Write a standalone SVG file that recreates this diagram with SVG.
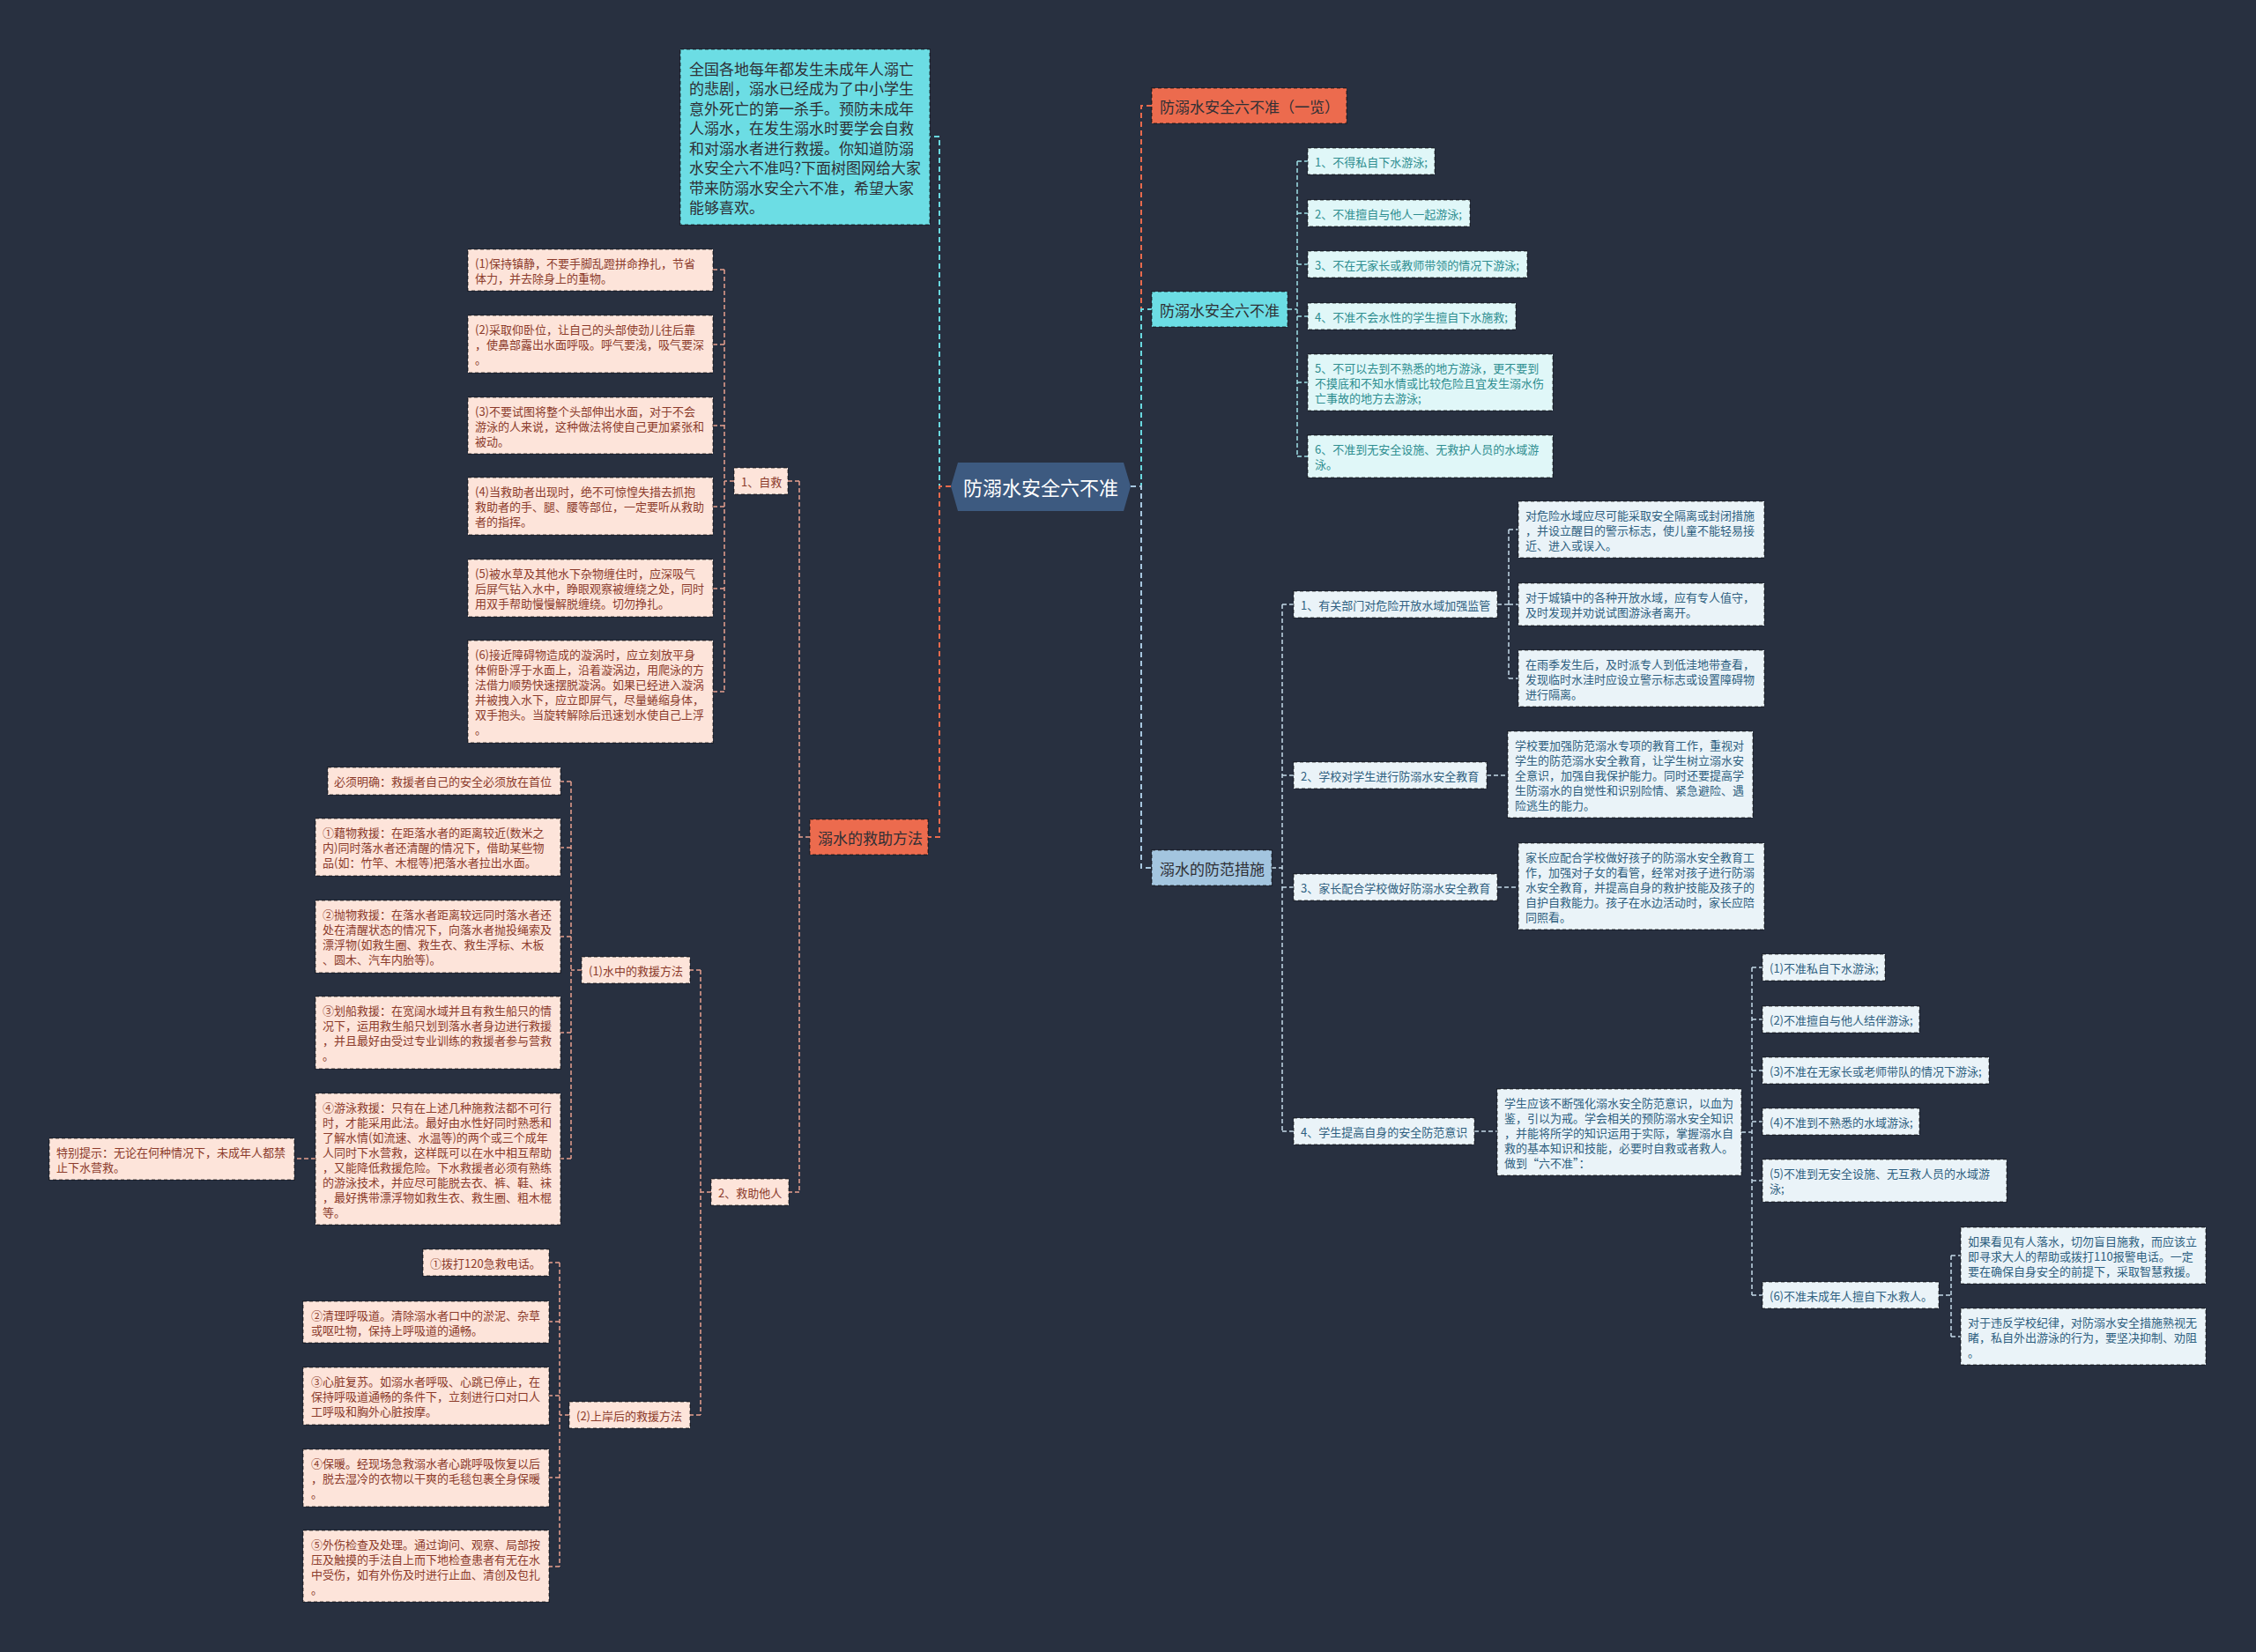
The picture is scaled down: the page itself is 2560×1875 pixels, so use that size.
<svg xmlns="http://www.w3.org/2000/svg" width="2560" height="1875" viewBox="0 0 2560 1875">
<style>
text{font-family:"Noto Sans CJK SC","Noto Sans",sans-serif;dominant-baseline:central}
.t13{font-size:13px}
.t17{font-size:17px;fill:#2f2f35}
.bx{stroke:#000;stroke-opacity:.45;stroke-width:1.5;stroke-dasharray:4 3}
.sal rect{fill:#fde4da}.sal text{fill:#8c3b2b;font-size:13px}
.cya rect{fill:#e0f7f8}.cya text{fill:#2e8e90;font-size:13px}
.blu rect{fill:#eaf3f8}.blu text{fill:#2e5f80;font-size:13px}
.c{fill:none;stroke-width:2;stroke-dasharray:6 4}
.cs{fill:none;stroke-width:1.5;stroke-dasharray:5 3}
</style>
<rect width="2560" height="1875" fill="#283040"/>

<g id="connectors">
  <path class="c" stroke="#6ad9e0" d="M1079,552H1066V155H1055"/>
  <path class="c" stroke="#e86a4d" d="M1079,552H1066V950H1053"/>
  <path class="c" stroke="#e86a4d" d="M1283,552H1295V120H1307"/>
  <path class="c" stroke="#6ad9e0" d="M1283,552H1295V351H1307"/>
  <path class="c" stroke="#a8c8e0" d="M1283,552H1295V985H1307"/>
  <!-- 六不准 children -->
  <path class="cs" stroke="#9fe0e6" d="M1461,351H1472M1472,183V518M1472,183H1484M1472,242H1484M1472,300H1484M1472,359H1484M1472,434H1484M1472,518H1484"/>
  <!-- 防范措施 children -->
  <path class="cs" stroke="#c4d9e8" d="M1443,985H1455M1455,686V1284M1455,686H1468M1455,880H1468M1455,1007H1468M1455,1284H1468"/>
  <path class="cs" stroke="#c4d9e8" d="M1699,686H1712M1712,601V770M1712,601H1723M1712,686H1723M1712,770H1723"/>
  <path class="cs" stroke="#c4d9e8" d="M1687,880H1711"/>
  <path class="cs" stroke="#c4d9e8" d="M1699,1007H1723"/>
  <path class="cs" stroke="#c4d9e8" d="M1673,1284H1699"/>
  <path class="cs" stroke="#c4d9e8" d="M1976,1285H1988M1988,1098V1470M1988,1098H2000M1988,1157H2000M1988,1215H2000M1988,1273H2000M1988,1340H2000M1988,1470H2000"/>
  <path class="cs" stroke="#c4d9e8" d="M2200,1470H2214M2214,1425V1517M2214,1425H2225M2214,1517H2225"/>
  <!-- 救助方法 children -->
  <path class="cs" stroke="#e8a08e" d="M919,950H907M907,546V1353M907,546H894M907,1353H895"/>
  <path class="cs" stroke="#e8a08e" d="M833,546H822M822,306V785M822,306H809M822,391H809M822,483H809M822,575H809M822,668H809M822,785H809"/>
  <path class="cs" stroke="#e8a08e" d="M807,1353H795M795,1101V1606M795,1101H783M795,1606H783"/>
  <path class="cs" stroke="#e8a08e" d="M660,1101H648M648,887V1315M648,887H636M648,962H636M648,1063H636M648,1172H636M648,1315H636"/>
  <path class="cs" stroke="#e8a08e" d="M358,1315H334"/>
  <path class="cs" stroke="#e8a08e" d="M646,1606H635M635,1433V1778M635,1433H623M635,1500H623M635,1584H623M635,1677H623M635,1778H623"/>
</g>

<g id="root">
  <polygon points="1079,552 1087,525 1275,525 1283,552 1275,580 1087,580" fill="#3d5a80"/>
  <text x="1181" y="552" font-size="22" fill="#ffffff" text-anchor="middle">防溺水安全六不准</text>
</g>

<g id="intro">
  <rect class="bx" x="772" y="56" width="283" height="199" fill="#6cdde4"/>
  <text class="t17" x="782" y="77">全国各地每年都发生未成年人溺亡</text>
  <text class="t17" x="782" y="99.5">的悲剧，溺水已经成为了中小学生</text>
  <text class="t17" x="782" y="122">意外死亡的第一杀手。预防未成年</text>
  <text class="t17" x="782" y="144.5">人溺水，在发生溺水时要学会自救</text>
  <text class="t17" x="782" y="167">和对溺水者进行救援。你知道防溺</text>
  <text class="t17" x="782" y="189.5">水安全六不准吗?下面树图网给大家</text>
  <text class="t17" x="782" y="212">带来防溺水安全六不准，希望大家</text>
  <text class="t17" x="782" y="234.5">能够喜欢。</text>
</g>

<g id="n-yilan">
  <rect class="bx" x="1307" y="100" width="221" height="40" fill="#ec6b4e"/>
  <text class="t17" x="1316" y="120">防溺水安全六不准（一览）</text>
</g>
<g id="n-liubuzhun">
  <rect class="bx" x="1307" y="331" width="154" height="40" fill="#6cdde4"/>
  <text class="t17" x="1316" y="351">防溺水安全六不准</text>
</g>
<g id="n-fangfan">
  <rect class="bx" x="1307" y="965" width="136" height="40" fill="#a3c5df"/>
  <text class="t17" x="1316" y="985">溺水的防范措施</text>
</g>
<g id="n-jiuzhu">
  <rect class="bx" x="919" y="930" width="134" height="40" fill="#ec6b4e"/>
  <text class="t17" x="928" y="950">溺水的救助方法</text>
</g>

<!-- 六不准 children -->
<g id="l1" class="cya"><rect class="bx" x="1484" y="168" width="144" height="30"/><text x="1492" y="183">1、不得私自下水游泳;</text></g>
<g id="l2" class="cya"><rect class="bx" x="1484" y="227" width="184" height="30"/><text x="1492" y="242">2、不准擅自与他人一起游泳;</text></g>
<g id="l3" class="cya"><rect class="bx" x="1484" y="285" width="249" height="30"/><text x="1492" y="300">3、不在无家长或教师带领的情况下游泳;</text></g>
<g id="l4" class="cya"><rect class="bx" x="1484" y="344" width="236" height="30"/><text x="1492" y="359">4、不准不会水性的学生擅自下水施救;</text></g>
<g id="l5" class="cya"><rect class="bx" x="1484" y="402" width="278" height="64"/>
  <text x="1492" y="417">5、不可以去到不熟悉的地方游泳，更不要到</text>
  <text x="1492" y="434">不摸底和不知水情或比较危险且宜发生溺水伤</text>
  <text x="1492" y="451">亡事故的地方去游泳;</text></g>
<g id="l6" class="cya"><rect class="bx" x="1484" y="494" width="278" height="48"/>
  <text x="1492" y="509">6、不准到无安全设施、无救护人员的水域游</text>
  <text x="1492" y="526">泳。</text></g>

<!-- 防范措施 children -->
<g id="f1" class="blu"><rect class="bx" x="1468" y="671" width="231" height="30"/><text x="1476" y="686">1、有关部门对危险开放水域加强监管</text></g>
<g id="f1a" class="blu"><rect class="bx" x="1723" y="569" width="279" height="64"/>
  <text x="1731" y="584">对危险水域应尽可能采取安全隔离或封闭措施</text>
  <text x="1731" y="601">，并设立醒目的警示标志，使儿童不能轻易接</text>
  <text x="1731" y="618">近、进入或误入。</text></g>
<g id="f1b" class="blu"><rect class="bx" x="1723" y="662" width="279" height="48"/>
  <text x="1731" y="677">对于城镇中的各种开放水域，应有专人值守，</text>
  <text x="1731" y="694">及时发现并劝说试图游泳者离开。</text></g>
<g id="f1c" class="blu"><rect class="bx" x="1723" y="738" width="279" height="64"/>
  <text x="1731" y="753">在雨季发生后，及时派专人到低洼地带查看，</text>
  <text x="1731" y="770">发现临时水洼时应设立警示标志或设置障碍物</text>
  <text x="1731" y="787">进行隔离。</text></g>
<g id="f2" class="blu"><rect class="bx" x="1468" y="865" width="219" height="30"/><text x="1476" y="880">2、学校对学生进行防溺水安全教育</text></g>
<g id="f2a" class="blu"><rect class="bx" x="1711" y="830" width="278" height="98"/>
  <text x="1719" y="845">学校要加强防范溺水专项的教育工作，重视对</text>
  <text x="1719" y="862">学生的防范溺水安全教育，让学生树立溺水安</text>
  <text x="1719" y="879">全意识，加强自我保护能力。同时还要提高学</text>
  <text x="1719" y="896">生防溺水的自觉性和识别险情、紧急避险、遇</text>
  <text x="1719" y="913">险逃生的能力。</text></g>
<g id="f3" class="blu"><rect class="bx" x="1468" y="992" width="231" height="30"/><text x="1476" y="1007">3、家长配合学校做好防溺水安全教育</text></g>
<g id="f3a" class="blu"><rect class="bx" x="1723" y="957" width="279" height="98"/>
  <text x="1731" y="972">家长应配合学校做好孩子的防溺水安全教育工</text>
  <text x="1731" y="989">作，加强对子女的看管，经常对孩子进行防溺</text>
  <text x="1731" y="1006">水安全教育，并提高自身的救护技能及孩子的</text>
  <text x="1731" y="1023">自护自救能力。孩子在水边活动时，家长应陪</text>
  <text x="1731" y="1040">同照看。</text></g>
<g id="f4" class="blu"><rect class="bx" x="1468" y="1269" width="205" height="30"/><text x="1476" y="1284">4、学生提高自身的安全防范意识</text></g>
<g id="f4a" class="blu"><rect class="bx" x="1699" y="1236" width="277" height="98"/>
  <text x="1707" y="1251">学生应该不断强化溺水安全防范意识，以血为</text>
  <text x="1707" y="1268">鉴，引以为戒。学会相关的预防溺水安全知识</text>
  <text x="1707" y="1285">，并能将所学的知识运用于实际，掌握溺水自</text>
  <text x="1707" y="1302">救的基本知识和技能，必要时自救或者救人。</text>
  <text x="1707" y="1319">做到“六不准”：</text></g>
<g id="p1" class="blu"><rect class="bx" x="2000" y="1083" width="139" height="30"/><text x="2008" y="1098">(1)不准私自下水游泳;</text></g>
<g id="p2" class="blu"><rect class="bx" x="2000" y="1142" width="178" height="30"/><text x="2008" y="1157">(2)不准擅自与他人结伴游泳;</text></g>
<g id="p3" class="blu"><rect class="bx" x="2000" y="1200" width="257" height="30"/><text x="2008" y="1215">(3)不准在无家长或老师带队的情况下游泳;</text></g>
<g id="p4" class="blu"><rect class="bx" x="2000" y="1258" width="178" height="30"/><text x="2008" y="1273">(4)不准到不熟悉的水域游泳;</text></g>
<g id="p5" class="blu"><rect class="bx" x="2000" y="1316" width="277" height="48"/>
  <text x="2008" y="1331">(5)不准到无安全设施、无互救人员的水域游</text>
  <text x="2008" y="1348">泳;</text></g>
<g id="p6" class="blu"><rect class="bx" x="2000" y="1455" width="200" height="30"/><text x="2008" y="1470">(6)不准未成年人擅自下水救人。</text></g>
<g id="p6a" class="blu"><rect class="bx" x="2225" y="1393" width="278" height="64"/>
  <text x="2233" y="1408">如果看见有人落水，切勿盲目施救，而应该立</text>
  <text x="2233" y="1425">即寻求大人的帮助或拨打110报警电话。一定</text>
  <text x="2233" y="1442">要在确保自身安全的前提下，采取智慧救援。</text></g>
<g id="p6b" class="blu"><rect class="bx" x="2225" y="1485" width="278" height="64"/>
  <text x="2233" y="1500">对于违反学校纪律，对防溺水安全措施熟视无</text>
  <text x="2233" y="1517">睹，私自外出游泳的行为，要坚决抑制、劝阻</text>
  <text x="2233" y="1534">。</text></g>

<!-- 救助方法 children -->
<g id="zj" class="sal"><rect class="bx" x="833" y="531" width="61" height="30"/><text x="841" y="546">1、自救</text></g>
<g id="zj1" class="sal"><rect class="bx" x="531" y="283" width="278" height="47"/>
  <text x="539" y="298">(1)保持镇静，不要手脚乱蹬拼命挣扎，节省</text>
  <text x="539" y="315">体力，并去除身上的重物。</text></g>
<g id="zj2" class="sal"><rect class="bx" x="531" y="358" width="278" height="65"/>
  <text x="539" y="373">(2)采取仰卧位，让自己的头部使劲儿往后靠</text>
  <text x="539" y="390">，使鼻部露出水面呼吸。呼气要浅，吸气要深</text>
  <text x="539" y="407">。</text></g>
<g id="zj3" class="sal"><rect class="bx" x="531" y="451" width="278" height="64"/>
  <text x="539" y="466">(3)不要试图将整个头部伸出水面，对于不会</text>
  <text x="539" y="483">游泳的人来说，这种做法将使自己更加紧张和</text>
  <text x="539" y="500">被动。</text></g>
<g id="zj4" class="sal"><rect class="bx" x="531" y="542" width="278" height="65"/>
  <text x="539" y="557">(4)当救助者出现时，绝不可惊惶失措去抓抱</text>
  <text x="539" y="574">救助者的手、腿、腰等部位，一定要听从救助</text>
  <text x="539" y="591">者的指挥。</text></g>
<g id="zj5" class="sal"><rect class="bx" x="531" y="635" width="278" height="65"/>
  <text x="539" y="650">(5)被水草及其他水下杂物缠住时，应深吸气</text>
  <text x="539" y="667">后屏气钻入水中，睁眼观察被缠绕之处，同时</text>
  <text x="539" y="684">用双手帮助慢慢解脱缠绕。切勿挣扎。</text></g>
<g id="zj6" class="sal"><rect class="bx" x="531" y="727" width="278" height="116"/>
  <text x="539" y="742">(6)接近障碍物造成的漩涡时，应立刻放平身</text>
  <text x="539" y="759">体俯卧浮于水面上，沿着漩涡边，用爬泳的方</text>
  <text x="539" y="776">法借力顺势快速摆脱漩涡。如果已经进入漩涡</text>
  <text x="539" y="793">并被拽入水下，应立即屏气，尽量蜷缩身体，</text>
  <text x="539" y="810">双手抱头。当旋转解除后迅速划水使自己上浮</text>
  <text x="539" y="827">。</text></g>

<g id="jz" class="sal"><rect class="bx" x="807" y="1338" width="88" height="30"/><text x="815" y="1353">2、救助他人</text></g>
<g id="sz" class="sal"><rect class="bx" x="660" y="1086" width="123" height="30"/><text x="668" y="1101">(1)水中的救援方法</text></g>
<g id="sz0" class="sal"><rect class="bx" x="372" y="871" width="264" height="31"/><text x="379" y="886.5">必须明确：救援者自己的安全必须放在首位</text></g>
<g id="sz1" class="sal"><rect class="bx" x="358" y="929" width="278" height="65"/>
  <text x="366" y="944">①藉物救援：在距落水者的距离较近(数米之</text>
  <text x="366" y="961">内)同时落水者还清醒的情况下，借助某些物</text>
  <text x="366" y="978">品(如：竹竿、木棍等)把落水者拉出水面。</text></g>
<g id="sz2" class="sal"><rect class="bx" x="358" y="1022" width="278" height="82"/>
  <text x="366" y="1037">②抛物救援：在落水者距离较远同时落水者还</text>
  <text x="366" y="1054">处在清醒状态的情况下，向落水者抛投绳索及</text>
  <text x="366" y="1071">漂浮物(如救生圈、救生衣、救生浮标、木板</text>
  <text x="366" y="1088">、圆木、汽车内胎等)。</text></g>
<g id="sz3" class="sal"><rect class="bx" x="358" y="1131" width="278" height="82"/>
  <text x="366" y="1146">③划船救援：在宽阔水域并且有救生船只的情</text>
  <text x="366" y="1163">况下，运用救生船只划到落水者身边进行救援</text>
  <text x="366" y="1180">，并且最好由受过专业训练的救援者参与营救</text>
  <text x="366" y="1197">。</text></g>
<g id="sz4" class="sal"><rect class="bx" x="358" y="1241" width="278" height="149"/>
  <text x="366" y="1256">④游泳救援：只有在上述几种施救法都不可行</text>
  <text x="366" y="1273">时，才能采用此法。最好由水性好同时熟悉和</text>
  <text x="366" y="1290">了解水情(如流速、水温等)的两个或三个成年</text>
  <text x="366" y="1307">人同时下水营救，这样既可以在水中相互帮助</text>
  <text x="366" y="1324">，又能降低救援危险。下水救援者必须有熟练</text>
  <text x="366" y="1341">的游泳技术，并应尽可能脱去衣、裤、鞋、袜</text>
  <text x="366" y="1358">，最好携带漂浮物如救生衣、救生圈、粗木棍</text>
  <text x="366" y="1375">等。</text></g>
<g id="sz4a" class="sal"><rect class="bx" x="56" y="1292" width="278" height="47"/>
  <text x="64" y="1307">特别提示：无论在何种情况下，未成年人都禁</text>
  <text x="64" y="1324">止下水营救。</text></g>

<g id="sa" class="sal"><rect class="bx" x="646" y="1591" width="137" height="30"/><text x="654" y="1606">(2)上岸后的救援方法</text></g>
<g id="sa1" class="sal"><rect class="bx" x="480" y="1418" width="143" height="30"/><text x="488" y="1433">①拨打120急救电话。</text></g>
<g id="sa2" class="sal"><rect class="bx" x="344" y="1477" width="279" height="47"/>
  <text x="353" y="1492">②清理呼吸道。清除溺水者口中的淤泥、杂草</text>
  <text x="353" y="1509">或呕吐物，保持上呼吸道的通畅。</text></g>
<g id="sa3" class="sal"><rect class="bx" x="344" y="1552" width="279" height="65"/>
  <text x="353" y="1567">③心脏复苏。如溺水者呼吸、心跳已停止，在</text>
  <text x="353" y="1584">保持呼吸道通畅的条件下，立刻进行口对口人</text>
  <text x="353" y="1601">工呼吸和胸外心脏按摩。</text></g>
<g id="sa4" class="sal"><rect class="bx" x="344" y="1645" width="279" height="65"/>
  <text x="353" y="1660">④保暖。经现场急救溺水者心跳呼吸恢复以后</text>
  <text x="353" y="1677">，脱去湿冷的衣物以干爽的毛毯包裹全身保暖</text>
  <text x="353" y="1694">。</text></g>
<g id="sa5" class="sal"><rect class="bx" x="344" y="1737" width="279" height="81"/>
  <text x="353" y="1752">⑤外伤检查及处理。通过询问、观察、局部按</text>
  <text x="353" y="1769">压及触摸的手法自上而下地检查患者有无在水</text>
  <text x="353" y="1786">中受伤，如有外伤及时进行止血、清创及包扎</text>
  <text x="353" y="1803">。</text></g>
</svg>
